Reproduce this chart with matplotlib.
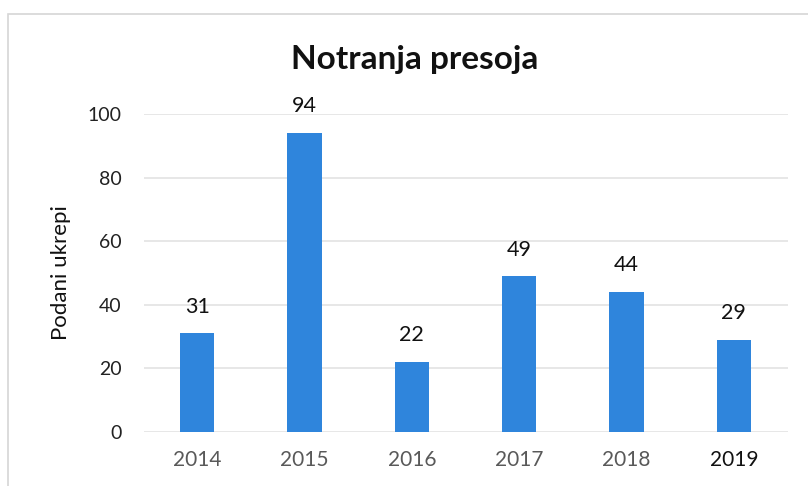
import numpy as np
import matplotlib
matplotlib.use('Agg')
import matplotlib.pyplot as plt
from matplotlib.patches import Rectangle

plt.rcParams['font.family'] = ['Lato', 'DejaVu Sans']

years = ['2014', '2015', '2016', '2017', '2018', '2019']
ukrepi = [31, 94, 22, 49, 44, 29]
yticks = [0, 20, 40, 60, 80, 100]

fig = plt.figure(figsize=(8.08, 4.86), dpi=100)
# light outer chart frame (scan shows left and top edge only)
fig.patches.append(Rectangle((8 / 808, -0.1), 1.2, (486 - 14) / 486 + 0.1,
                             transform=fig.transFigure, fill=False,
                             edgecolor='#d6d6d6', lw=1.2))

ax = fig.add_axes([143.5 / 808, 54 / 486, 644 / 808, 318 / 486])
x = np.arange(len(years))
bars = ax.bar(x, ukrepi, width=0.32, color='#2f85dc', zorder=3)

ax.set_xlim(-0.5, len(years) - 0.5)
ax.set_ylim(0, 100)
ax.set_yticks(yticks)
ax.set_xticks(x)
ax.set_xticklabels(years)
ax.grid(axis='y', color='#e3e3e3', lw=1.2, zorder=0)
for s in ax.spines.values():
    s.set_visible(False)
ax.tick_params(length=0)
ax.tick_params(axis='x', colors='#595959', labelsize=15, pad=13)
ax.tick_params(axis='y', colors='#222222', labelsize=14, pad=16)
ax.get_xticklabels()[-1].set_color('#111111')

for xi, v in zip(x, ukrepi):
    ax.annotate(str(v), (xi, v), xytext=(0, 12), textcoords='offset points',
                ha='center', va='bottom', fontsize=15.5, color='#111111')

ax.set_ylabel('Podani ukrepi', fontsize=16, color='#111111', labelpad=12)
fig.text(415 / 808, 1 - 60 / 486, 'Notranja presoja', ha='center', va='center',
         fontsize=24, fontweight='bold', color='#111111')

fig.savefig('out.png', dpi=100)
